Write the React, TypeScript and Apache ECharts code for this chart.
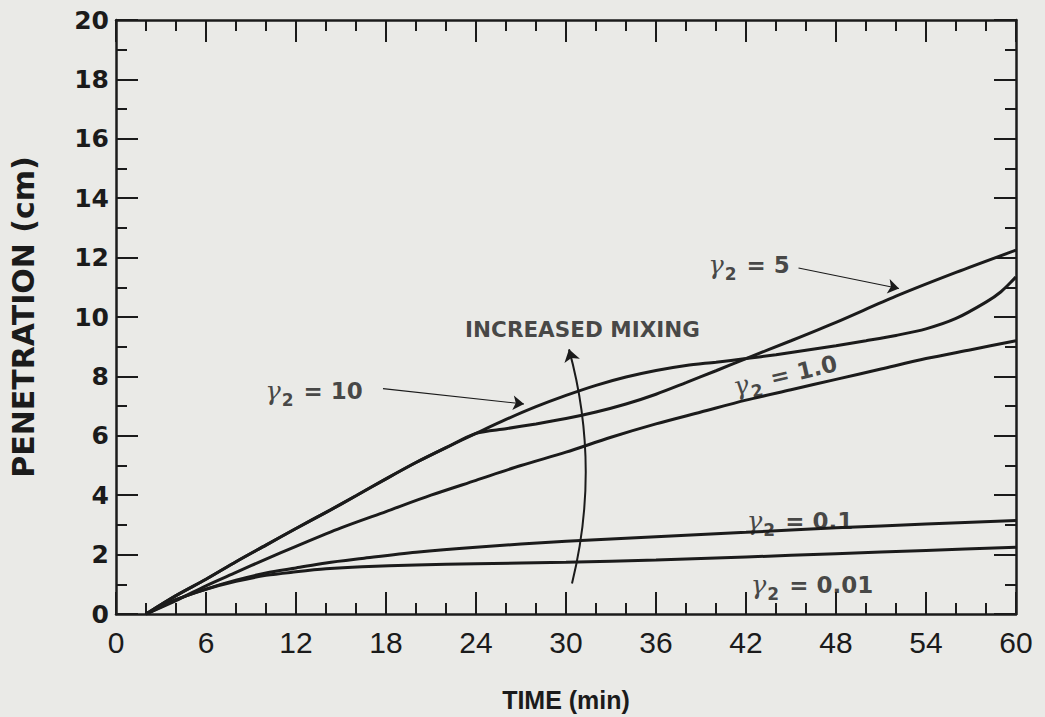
import React, { useEffect, useRef } from "react";
import * as echarts from "echarts";

// Axis ranges and tick steps
const timeRange = [0, 60];
const timeStep = 6;
const timeMinorSplit = 3;
const depthRange = [0, 20];
const depthStep = 2;
const depthMinorSplit = 2;

// Penetration (cm) vs time (min) for each mixing parameter gamma2.
// gamma2 = 5 and gamma2 = 10 share one curve up to 24 min.
const sharedHigh: number[][] = [
  [2, 0], [4, 0.62], [6, 1.17], [8, 1.76], [10, 2.32], [12, 2.88], [14, 3.42],
  [16, 3.98], [18, 4.55], [20, 5.1], [22, 5.6], [24, 6.08],
];
const gamma5Tail: number[][] = [
  [26, 6.24], [28, 6.4], [30, 6.58], [32, 6.8], [34, 7.07], [36, 7.4], [38, 7.79],
  [40, 8.19], [42, 8.6], [45, 9.2], [48, 9.82], [52, 10.7], [56, 11.5], [60, 12.25],
];
const gamma10Tail: number[][] = [
  [26, 6.55], [28, 6.98], [30, 7.36], [32, 7.7], [34, 7.98], [36, 8.2], [38, 8.37],
  [40, 8.48], [42, 8.6], [44, 8.73], [46, 8.88], [48, 9.03], [50, 9.2], [52, 9.38],
  [54, 9.6], [56, 9.95], [58, 10.5], [59, 10.85], [60, 11.35],
];
const gamma1: number[][] = [
  [2, 0], [4, 0.45], [6, 0.95], [8, 1.4], [10, 1.85], [12, 2.28], [15, 2.9], [18, 3.45],
  [21, 4.0], [24, 4.5], [27, 5.0], [30, 5.45], [33, 5.95], [36, 6.4], [39, 6.8],
  [42, 7.2], [45, 7.55], [48, 7.9], [51, 8.25], [54, 8.6], [57, 8.9], [60, 9.2],
];
const gamma01: number[][] = [
  [2, 0], [4, 0.48], [6, 0.84], [8, 1.14], [10, 1.38], [12, 1.55], [14, 1.72],
  [16.4, 1.87], [20, 2.08], [24, 2.25], [30, 2.45], [36, 2.6], [42, 2.75], [48, 2.9],
  [54, 3.03], [60, 3.15],
];
const gamma001: number[][] = [
  [2, 0], [4, 0.48], [6, 0.83], [8, 1.1], [10, 1.3], [12, 1.42], [14, 1.52],
  [16.4, 1.59], [20, 1.65], [24, 1.69], [30, 1.74], [36, 1.82], [42, 1.92],
  [48, 2.03], [54, 2.14], [60, 2.25],
];

// Curve annotations: gamma2 value, anchor (time, penetration), text rotation
const curveLabelValues = ["5", "10", "1.0", "0.1", "0.01"];
const curveLabelAnchors: number[][] = [[42.2, 11.75], [13.2, 7.5], [44.6, 8.05], [45.6, 3.14], [46.4, 0.98]];
const curveLabelRotation = [0, 0, 13, 0, 0];

// Leader arrows from labels to curves, and the "increased mixing" arrow
const leaderArrows: number[][][] = [
  [[17.8, 7.59], [27.2, 7.07]],
  [[45.5, 11.65], [52.2, 10.96]],
];
const mixingArrow: number[][] = [[30.4, 1.03], [30.2, 8.91]];
const mixingText = "INCREASED MIXING";
const mixingTextAnchor = [31.1, 9.58];

const ink = "#1b1b1b";
const paper = "#eaeae7";
const boldFace = "DejaVu Sans";

function boxAxis(position: string, range: number[], step: number, split: number) {
  return {
    type: "value",
    position,
    min: range[0],
    max: range[1],
    interval: step,
    axisLine: { show: true, onZero: false, lineStyle: { color: ink, width: 2.5 } },
    axisTick: { show: true, inside: true, length: 22, lineStyle: { color: ink, width: 2 } },
    minorTick: { show: true, splitNumber: split, length: 11, lineStyle: { color: ink, width: 2 } },
    splitLine: { show: false },
    minorSplitLine: { show: false },
    axisLabel: { show: false },
  };
}

export default function App() {
  const ref = useRef<HTMLDivElement>(null);

  useEffect(() => {
    if (!ref.current) return;
    const chart = echarts.init(ref.current, undefined, { renderer: "svg" });

    const curveStyle = {
      type: "line",
      showSymbol: false,
      symbol: "none",
      smooth: 0.3,
      silent: true,
      lineStyle: { color: ink, width: 3 },
      z: 3,
    };

    const richGamma = {
      g: { fontFamily: "DejaVu Serif", fontStyle: "italic", fontSize: 26, color: ink },
      s: { fontFamily: boldFace, fontWeight: "bold", fontSize: 17, color: ink, padding: [18, 2, 0, 1], verticalAlign: "bottom" },
      t: { fontFamily: boldFace, fontWeight: "bold", fontSize: 23, color: ink },
    };

    const labelData = curveLabelValues.map((v, i) => ({
      value: curveLabelAnchors[i],
      label: {
        show: true,
        position: "inside",
        rotate: curveLabelRotation[i],
        formatter: `{g|γ}{s|2}{t| = ${v}}`,
        rich: richGamma,
      },
    }));

    chart.setOption({
      animation: false,
      backgroundColor: paper,
      grid: { left: 114, right: 29, top: 20, bottom: 96, containLabel: false },
      xAxis: [
        {
          ...boxAxis("bottom", timeRange, timeStep, timeMinorSplit),
          axisLabel: { show: true, color: ink, fontFamily: "Liberation Sans", fontSize: 30, margin: 13 },
          name: "TIME (min)",
          nameLocation: "middle",
          nameGap: 73,
          nameTextStyle: { color: ink, fontFamily: "Liberation Sans", fontSize: 25, fontWeight: "bold" },
        },
        boxAxis("top", timeRange, timeStep, timeMinorSplit),
      ],
      yAxis: [
        {
          ...boxAxis("left", depthRange, depthStep, depthMinorSplit),
          axisLabel: { show: true, color: ink, fontFamily: boldFace, fontWeight: "bold", fontSize: 25, margin: 7 },
          name: "PENETRATION (cm)",
          nameLocation: "middle",
          nameRotate: 90,
          nameGap: 78,
          nameTextStyle: { color: ink, fontFamily: boldFace, fontSize: 30, fontWeight: "bold" },
        },
        boxAxis("right", depthRange, depthStep, depthMinorSplit),
      ],
      series: [
        { ...curveStyle, name: "γ2 = 10", data: [...sharedHigh, ...gamma10Tail] },
        { ...curveStyle, name: "γ2 = 5", data: [...sharedHigh, ...gamma5Tail] },
        { ...curveStyle, name: "γ2 = 1.0", data: gamma1 },
        { ...curveStyle, name: "γ2 = 0.1", data: gamma01 },
        { ...curveStyle, name: "γ2 = 0.01", data: gamma001 },
        {
          type: "lines",
          coordinateSystem: "cartesian2d",
          silent: true,
          symbol: ["none", "arrow"],
          symbolSize: [7, 12],
          lineStyle: { color: ink, width: 2, curveness: -0.13, opacity: 1 },
          data: [{ coords: mixingArrow }],
          z: 4,
        },
        {
          type: "lines",
          coordinateSystem: "cartesian2d",
          silent: true,
          symbol: ["none", "arrow"],
          symbolSize: [6, 11],
          lineStyle: { color: ink, width: 1.2, opacity: 1 },
          data: leaderArrows.map((c) => ({ coords: c })),
          z: 4,
        },
        {
          type: "scatter",
          silent: true,
          symbolSize: 0,
          data: labelData,
          z: 5,
        },
        {
          type: "scatter",
          silent: true,
          symbolSize: 0,
          data: [
            {
              value: mixingTextAnchor,
              label: {
                show: true,
                position: "inside",
                formatter: mixingText,
                fontFamily: boldFace,
                fontWeight: "bold",
                fontSize: 21.5,
                color: ink,
              },
            },
          ],
          z: 5,
        },
      ],
    });

    return () => chart.dispose();
  }, []);

  return (
    <div
      ref={ref}
      style={{ position: "fixed", left: 0, top: 0, width: 1045, height: 717 }}
    />
  );
}
